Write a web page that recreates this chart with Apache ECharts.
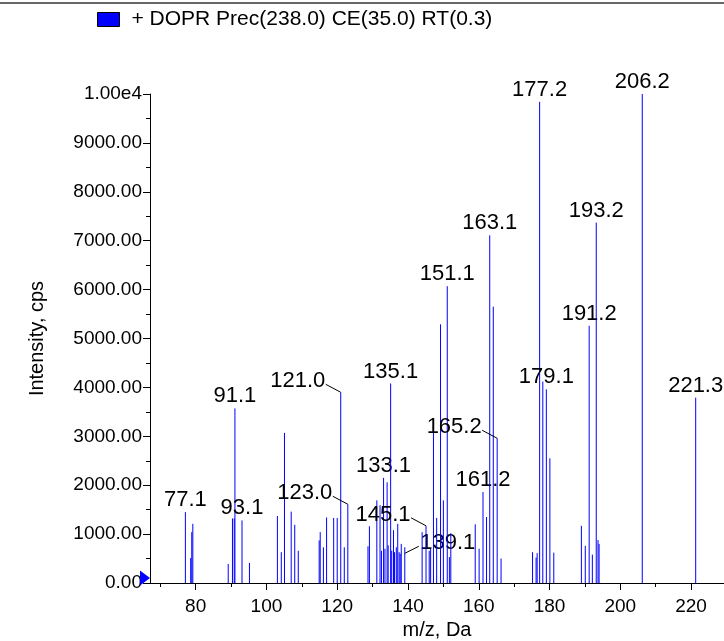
<!DOCTYPE html>
<html>
<head>
<meta charset="utf-8">
<script src="https://cdn.jsdelivr.net/npm/echarts@6/dist/echarts.min.js"></script>
<style>
  html, body { margin: 0; padding: 0; background: #fff; }
  #chart { width: 724px; height: 641px; }
</style>
</head>
<body>
<div id="chart"></div>
<script>
// peaks (m/z, Da / intensity, cps)
const mzValues = [
  77.1, 78.6, 78.9, 79.2, 89.2, 90.4, 90.9, 91.1, 93.1, 95.2,
  103.1, 104.2, 105.1, 107.0, 108.0, 109.0, 114.9, 115.2, 116.1, 117.0,
  119.0, 120.0, 121.0, 122.0, 123.0, 128.7, 129.1, 131.2, 132.1, 132.5,
  133.1, 133.5, 134.1, 134.4, 135.1, 135.4, 135.9, 136.2, 136.7, 137.1,
  137.5, 137.8, 138.1, 139.1, 144.0, 145.1, 146.0, 146.4, 147.2, 148.1,
  149.2, 150.0, 151.1, 151.7, 152.1, 159.0, 160.1, 161.2, 162.2, 163.1,
  164.1, 165.2, 166.3, 175.2, 176.2, 176.5, 177.2, 178.1, 179.1, 180.1,
  181.2, 189.0, 190.1, 191.2, 192.1, 193.2, 193.7, 194.0, 206.2, 221.3
];
const intensities = [
  1450, 510, 1040, 1210, 390, 1320, 1320, 3570, 1280, 410,
  1370, 630, 3070, 1460, 1190, 660, 870, 1040, 730, 1340,
  1330, 1330, 3900, 730, 1610, 750, 1160, 1690, 1590, 660,
  2150, 700, 2060, 770, 4080, 660, 1080, 630, 730, 1210,
  630, 600, 800, 730, 1040, 1170, 660, 700, 3090, 1330,
  5290, 1690, 6070, 530, 1020, 1200, 700, 1860, 1350, 7110,
  5650, 2960, 500, 630, 520, 610, 9840, 4120, 3960, 2550,
  620, 1170, 760, 5260, 580, 7370, 880, 800, 10000, 3790
];
const peakLabels = [
  '77.1', '91.1', '93.1', '121.0', '123.0', '133.1', '135.1', '139.1', '145.1',
  '151.1', '161.2', '163.1', '165.2', '177.2', '179.1', '191.2', '193.2', '206.2', '221.3'
];
// labels pushed aside with a leader line
const leftLabels = ['121.0', '123.0', '145.1', '165.2'];
const rightLabels = ['139.1'];

const xTicks = [80, 100, 120, 140, 160, 180, 200, 220];
const xMinorTicks = [70, 90, 110, 130, 150, 170, 190, 210];
const seriesName = '+ DOPR Prec(238.0) CE(35.0) RT(0.3)';

const xMin = 67.1;
const xMax = 229.3;
const font = 'Liberation Sans, Arial, sans-serif';
const blue = '#0000ff';

const peakData = mzValues.map((m, i) => [m, intensities[i]]);

const renderPeak = (params, api) => {
  const m = api.value(0);
  const base = api.coord([m, 0]);
  const top = api.coord([m, api.value(1)]);
  const children = [{
    type: 'line',
    shape: { x1: base[0], y1: base[1], x2: top[0], y2: top[1] },
    style: { stroke: blue, lineWidth: 1 }
  }];
  const txt = m.toFixed(1);
  if (peakLabels.includes(txt)) {
    let tx = top[0], ty = top[1] - 12;
    if (leftLabels.includes(txt)) {
      tx = top[0] - 43; ty = top[1] - 11;
      children.push({
        type: 'line',
        shape: { x1: top[0], y1: top[1], x2: top[0] - 15, y2: top[1] - 8 },
        style: { stroke: '#000', lineWidth: 1 }
      });
    } else if (rightLabels.includes(txt)) {
      tx = top[0] + 43; ty = top[1] - 4;
      children.push({
        type: 'line',
        shape: { x1: top[0], y1: top[1] + 6, x2: top[0] + 14, y2: top[1] - 1 },
        style: { stroke: '#000', lineWidth: 1 }
      });
    }
    children.push({
      type: 'text',
      x: tx, y: ty,
      style: { text: txt, align: 'center', verticalAlign: 'middle', fontSize: 22, fontFamily: font, fill: '#000' }
    });
  }
  return { type: 'group', children };
};

const chart = echarts.init(document.getElementById('chart'));
const option = {
  animation: false,
  backgroundColor: '#fff',
  graphic: [{
    type: 'line',
    shape: { x1: 0, y1: 3, x2: 724, y2: 3 },
    style: { stroke: '#333', lineWidth: 1.5 }
  }],
  legend: {
    left: 97, top: 9, padding: 0,
    icon: 'rect',
    itemWidth: 22, itemHeight: 14, itemGap: 8,
    itemStyle: { borderColor: '#000', borderWidth: 1 },
    textStyle: { fontSize: 21, fontFamily: font, color: '#000', padding: [0, 0, 0, 7] },
    data: [seriesName]
  },
  grid: { left: 150, right: 0, top: 94, bottom: 58, outerBoundsMode: 'none', containLabel: false },
  xAxis: [{
    type: 'value', min: xMin, max: xMax,
    name: 'm/z, Da', nameLocation: 'middle', nameGap: 35,
    nameTextStyle: { fontSize: 20, fontFamily: font, color: '#000' },
    axisLine: { lineStyle: { color: '#000', width: 1 } },
    axisTick: { customValues: xTicks, length: 7, lineStyle: { color: '#000' } },
    axisLabel: { customValues: xTicks, fontSize: 19, fontFamily: font, color: '#000', margin: 14 },
    splitLine: { show: false }
  }, {
    type: 'value', min: xMin, max: xMax, position: 'bottom',
    axisLine: { show: false },
    axisTick: { customValues: xMinorTicks, length: 4, lineStyle: { color: '#000' } },
    axisLabel: { show: false },
    splitLine: { show: false }
  }],
  yAxis: {
    type: 'value', min: 0, max: 10000, interval: 1000,
    name: 'Intensity, cps', nameLocation: 'middle', nameGap: 103,
    nameTextStyle: { fontSize: 20, fontFamily: font, color: '#000' },
    axisLine: { show: true, lineStyle: { color: '#000', width: 1 } },
    axisTick: { show: true, length: 7, lineStyle: { color: '#000' } },
    minorTick: { show: true, splitNumber: 2, length: 4, lineStyle: { color: '#000' } },
    axisLabel: {
      fontSize: 19, fontFamily: font, color: '#000', margin: 8,
      formatter: v => (v >= 10000 ? '1.00e4' : v.toFixed(2))
    },
    splitLine: { show: false },
    minorSplitLine: { show: false }
  },
  series: [{
    name: seriesName,
    type: 'custom',
    xAxisIndex: 0,
    itemStyle: { color: blue },
    data: peakData,
    encode: { x: 0, y: 1 },
    renderItem: renderPeak,
    markPoint: {
      silent: true,
      symbol: 'triangle',
      symbolSize: [15, 10],
      symbolRotate: -90,
      symbolOffset: [-5, -5],
      itemStyle: { color: blue },
      label: { show: false },
      data: [{ coord: [xMin, 0] }]
    }
  }]
};
chart.setOption(option);
</script>
</body>
</html>
